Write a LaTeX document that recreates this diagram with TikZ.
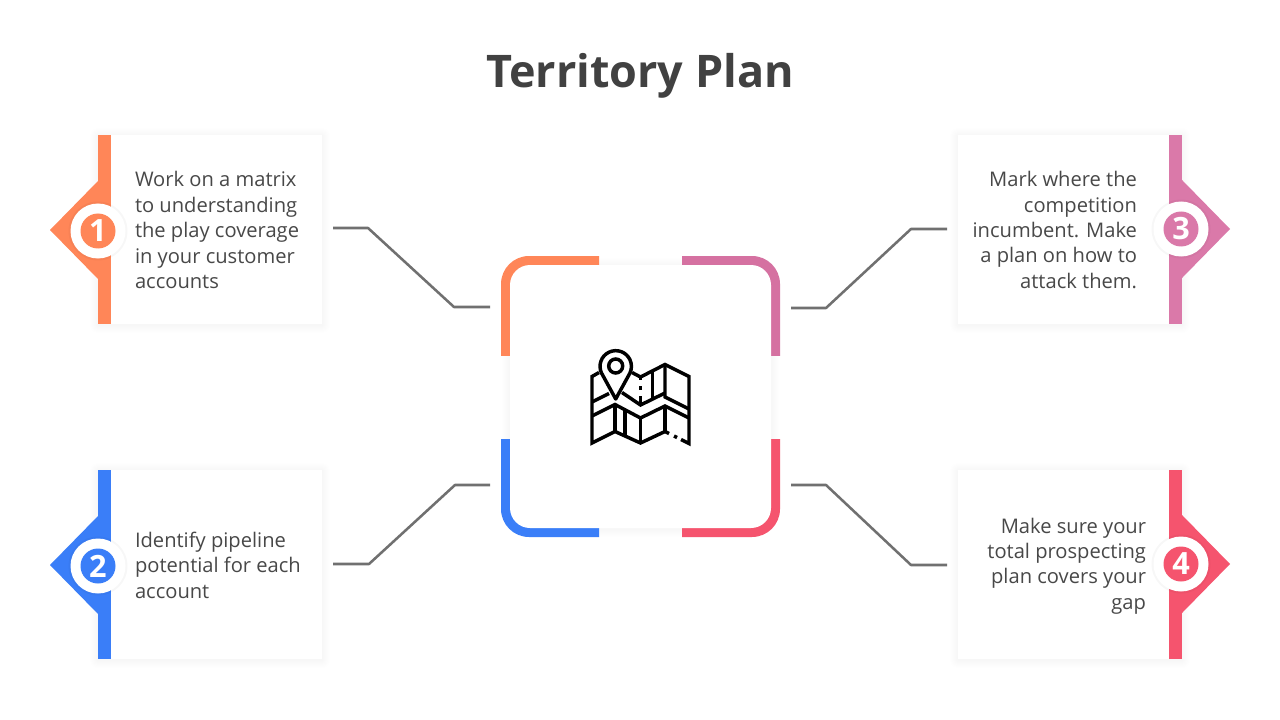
\documentclass[tikz,border=0pt]{standalone}
\usepackage{fontspec}
\setmainfont{Open Sans}
\usetikzlibrary{calc}
\definecolor{cOrange}{HTML}{FF8658}
\definecolor{cBlue}{HTML}{3A7EF8}
\definecolor{cPink}{HTML}{DA79A9}
\definecolor{cPinkTop}{HTML}{D571A1}
\definecolor{cRed}{HTML}{F5546E}
\definecolor{cText}{HTML}{484848}
\definecolor{cLine}{HTML}{707070}
\newcommand{\softshadow}[5]{% x1 y1 x2 y2 radius
  \foreach \g in {8,7,...,1}{
    \fill[black,opacity=0.005,rounded corners=#5+\g*0.75pt] (#1-\g,#2-\g+1) rectangle (#3+\g,#4+\g+1);
  }
}
\newcommand{\card}[4]{% x1 y1 bar1 color
  \softshadow{#1}{#2}{#1+224}{#2+189}{0pt}
  \fill[white] (#1,#2) rectangle (#1+224,#2+189);
  \fill[#4] (#3,#2) rectangle (#3+13,#2+189);
}
\tikzset{
  x=0.75pt,y=-0.75pt,
  bodytext/.style={font=\fontsize{15.1}{19.1}\selectfont,text=cText,inner sep=0pt,outer sep=0pt},
  numlabel/.style={font=\bfseries\fontsize{23}{23}\selectfont,text=white,inner sep=0pt},
  connector/.style={draw=cLine,line width=1.9pt,line join=round},
  iconline/.style={draw=black,line width=2.6pt,line join=miter,line cap=butt,fill=none},
}
\begin{document}
\begin{tikzpicture}
\useasboundingbox (0,0) rectangle (1280,720);
\fill[white] (0,0) rectangle (1280,720);

\node[font=\bfseries\fontsize{33.7}{33.7}\selectfont,text=cText!90!black,inner sep=0pt] (title) at (640,75.5) {Territory Plan};

% cards
\card{98}{135}{98}{cOrange}
\card{98}{470}{98}{cBlue}
\card{958}{135}{1169}{cPink}
\card{958}{470}{1169}{cRed}

% diamonds
\fill[cOrange] (98,181) -- (50,230) -- (98,279) -- cycle;
\fill[cBlue] (98,516) -- (50,565) -- (98,614) -- cycle;
\fill[cPink] (1182,180) -- (1230,229) -- (1182,278) -- cycle;
\fill[cRed] (1182,515) -- (1230,564) -- (1182,613) -- cycle;

% badges
\foreach \cx/\cy/\col/\n/\lab in {98/231/cOrange/1/b1,98/566/cBlue/2/b2,1181/229/cPink/3/b3,1181/564/cRed/4/b4}{
  \fill[black,opacity=0.03] (\cx,\cy) circle[radius=29.5*0.75pt];
  \fill[white] (\cx,\cy) circle[radius=27.5*0.75pt];
  \fill[\col] (\cx,\cy) circle[radius=17.5*0.75pt];
  \node[numlabel] (\lab) at (\cx,\cy) {\n};
}

% card text
\node[bodytext,anchor=west,align=left] (t1) at (135,230) {Work on a matrix\\to understanding\\the play coverage\\in your customer\\accounts};
\node[bodytext,anchor=west,align=left] (t2) at (135,565) {Identify pipeline\\potential for each\\account};
\node[bodytext,anchor=east,align=right] (t3) at (1137,230) {Mark where the\\competition\\incumbent. Make\\a plan on how to\\attack them.};
\node[bodytext,anchor=east,align=right] (t4) at (1146,566) {Make sure your\\total prospecting\\plan covers your\\gap};

% centre box
\softshadow{510}{265}{771}{528}{15pt}
\begin{scope}
  \clip (501,256) rectangle (599,355);
  \fill[cOrange,rounded corners=21pt] (501,256) rectangle (780,537);
\end{scope}
\begin{scope}
  \clip (682,256) rectangle (780,355);
  \fill[cPinkTop,rounded corners=21pt] (501,256) rectangle (780,537);
\end{scope}
\begin{scope}
  \clip (501,439) rectangle (599,537);
  \fill[cBlue,rounded corners=21pt] (501,256) rectangle (780,537);
\end{scope}
\begin{scope}
  \clip (682,439) rectangle (780,537);
  \fill[cRed,rounded corners=21pt] (501,256) rectangle (780,537);
\end{scope}
\fill[white,rounded corners=15pt] (510,265) rectangle (771,528);

% icon
\draw[iconline] (599,372.5) -- (592,376.5) -- (592,443) -- (615,431.5) -- (640.5,443) -- (665,431.5) -- (669,433.5);
\draw[iconline] (674,436) -- (677,437.5);
\draw[iconline] (681,439.5) -- (689,443.5) -- (689,376.5) -- (665,364.5) -- (640.5,377) -- (632,372.5);
\draw[iconline] (665,364.5) -- (665,397) -- (689,409);
\draw[iconline] (592,402) -- (609,393.5);
\draw[iconline] (592,416) -- (615,404.5) -- (640.5,418) -- (665,406) -- (689,418);
\draw[iconline] (622,392.5) -- (640.5,405) -- (665,393);
\draw[iconline] (615,404.5) -- (615,431.5);
\draw[iconline] (625,409.5) -- (625,436.5);
\draw[iconline] (640.5,418) -- (640.5,443);
\draw[iconline] (665,406) -- (665,431.5);
\draw[iconline] (652.7,371) -- (652.7,399);
\draw[iconline] (640.5,377) -- (640.5,380);
\draw[iconline] (640.5,386) -- (640.5,390);
\draw[iconline] (640.5,396) -- (640.5,405);
\draw[iconline,fill=white,line join=round]
  (615.7,399) -- (601.5,373) arc[start angle=205,end angle=-25,radius=15.7*0.75pt] -- cycle;
\draw[iconline] (615.7,366) circle[radius=7*0.75pt];

% connectors
\coordinate (a1) at (333,228); \coordinate (a2) at (490,307);
\coordinate (b1) at (333,564); \coordinate (b2) at (490,485);
\coordinate (d1) at (947,229); \coordinate (d2) at (791,308);
\coordinate (e1) at (947,565); \coordinate (e2) at (791,485);
\draw[connector] (a1) -- (368,228) -- (454,307) -- (a2);
\draw[connector] (b1) -- (369,564) -- (455,485) -- (b2);
\draw[connector] (d1) -- (911,229) -- (826,308) -- (d2);
\draw[connector] (e1) -- (911,565) -- (826,485) -- (e2);
\end{tikzpicture}
\end{document}
